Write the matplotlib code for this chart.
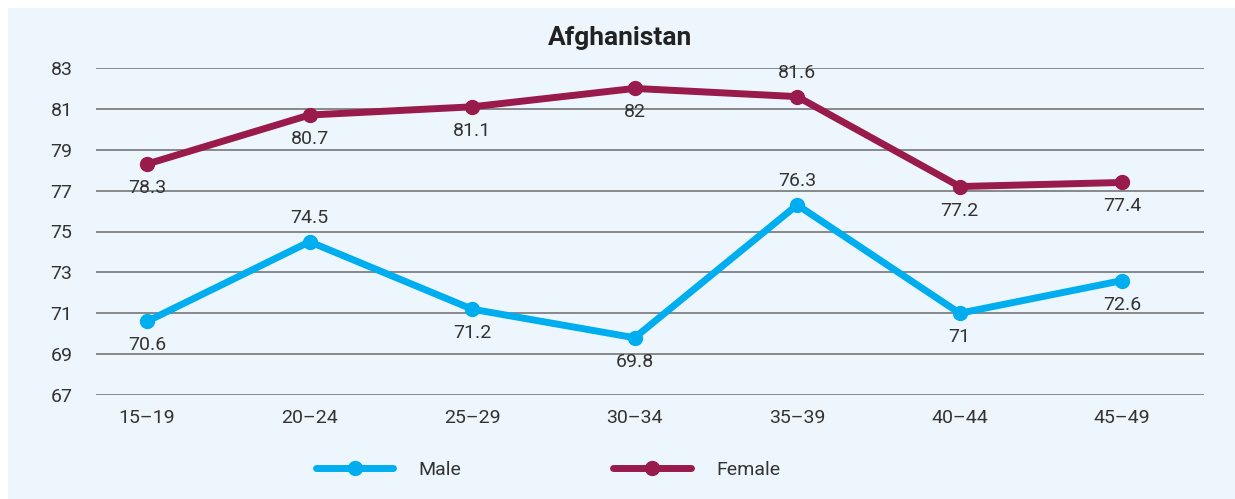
import matplotlib
matplotlib.use("Agg")
import matplotlib.pyplot as plt
from matplotlib.patches import Rectangle
from matplotlib.lines import Line2D

plt.rcParams['font.family'] = ['Roboto', 'DejaVu Sans']

# Data
age_groups = ["15–19", "20–24", "25–29", "30–34", "35–39", "40–44", "45–49"]
male = [70.6, 74.5, 71.2, 69.8, 76.3, 71, 72.6]
female = [78.3, 80.7, 81.1, 82, 81.6, 77.2, 77.4]
male_label_pos = ["below", "above", "below", "below", "above", "below", "below"]
female_label_pos = ["below", "below", "below", "below", "above", "below", "below"]
y_ticks = [67, 69, 71, 73, 75, 77, 79, 81, 83]

MALE_COLOR = "#00AEEF"
FEMALE_COLOR = "#981B4B"
BG = "#EEF6FD"
TEXT = "#333333"

W, H = 1235, 499
fig = plt.figure(figsize=(W / 100, H / 100), dpi=100)
fig.patch.set_facecolor("white")
fig.patches.append(Rectangle((8 / W, 0), (W - 8) / W, (H - 8) / H,
                             transform=fig.transFigure, facecolor=BG,
                             edgecolor="none", zorder=-10))

# axes area: grid spans x 96..1204, y 68 (83) .. 395 (67)
left, right = 96 / W, 1204 / W
top, bottom = 1 - 68 / H, 1 - 395 / H
ax = fig.add_axes([left, bottom, right - left, top - bottom])
ax.set_zorder(1)
ax.set_facecolor("none")

x = list(range(len(age_groups)))
ax.set_xlim(-0.314, 6.503)
ax.set_ylim(67, 83)

for yt in y_ticks:
    ax.axhline(yt, color="#808080", lw=1.3, zorder=1)

ax.plot(x, male, color=MALE_COLOR, lw=5, marker="o", ms=10,
        solid_capstyle="round", solid_joinstyle="round", zorder=3)
ax.plot(x, female, color=FEMALE_COLOR, lw=5, marker="o", ms=10,
        solid_capstyle="round", solid_joinstyle="round", zorder=3)

def annotate(values, positions):
    for xi, v, p in zip(x, values, positions):
        dy = 24 if p == "above" else -24
        ax.annotate(f"{v:g}", (xi, v), xytext=(0, dy * 0.72),
                    textcoords="offset points", ha="center", va="center",
                    fontsize=14, color=TEXT, zorder=4)

annotate(male, male_label_pos)
annotate(female, female_label_pos)

ax.set_yticks(y_ticks)
ax.set_xticks(x)
ax.set_xticklabels(age_groups)
ax.tick_params(axis="both", length=0, labelsize=14, labelcolor=TEXT)
ax.tick_params(axis="y", pad=17)
ax.tick_params(axis="x", pad=10)
for s in ax.spines.values():
    s.set_visible(False)

fig.text(620 / W, 1 - 38 / H, "Afghanistan", ha="center", va="center",
         fontsize=19, fontweight="bold", color="#222222")

handles = [
    Line2D([], [], color=MALE_COLOR, lw=5, marker="o", ms=10, solid_capstyle="round"),
    Line2D([], [], color=FEMALE_COLOR, lw=5, marker="o", ms=10, solid_capstyle="round"),
]
fig.legend(handles, ["Male", "Female"], loc="center",
           bbox_to_anchor=(548 / W, 1 - 470 / H), ncol=2, frameon=False,
           fontsize=14, labelcolor=TEXT, handlelength=4.0,
           handletextpad=1.3, columnspacing=7.8)

fig.savefig("out.png", dpi=100, facecolor="white")
